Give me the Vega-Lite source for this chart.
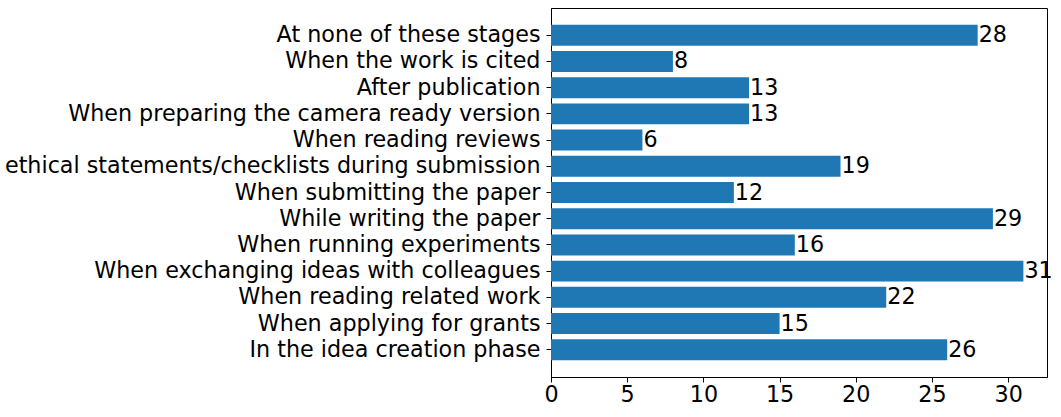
{
  "$schema": "https://vega.github.io/schema/vega-lite/v6.json",
  "autosize": "none",
  "width": 496,
  "height": 369,
  "padding": {"left": 551, "top": 8, "right": 14, "bottom": 40},
  "background": "white",
  "config": {
    "view": {"stroke": "black", "strokeWidth": 1},
    "font": "DejaVu Sans"
  },
  "data": {
    "values": [
      {"stage": "At none of these stages", "count": 28, "order": 1},
      {"stage": "When the work is cited", "count": 8, "order": 2},
      {"stage": "After publication", "count": 13, "order": 3},
      {"stage": "When preparing the camera ready version", "count": 13, "order": 4},
      {"stage": "When reading reviews", "count": 6, "order": 5},
      {"stage": "ethical statements/checklists during submission", "count": 19, "order": 6},
      {"stage": "When submitting the paper", "count": 12, "order": 7},
      {"stage": "While writing the paper", "count": 29, "order": 8},
      {"stage": "When running experiments", "count": 16, "order": 9},
      {"stage": "When exchanging ideas with colleagues", "count": 31, "order": 10},
      {"stage": "When reading related work", "count": 22, "order": 11},
      {"stage": "When applying for grants", "count": 15, "order": 12},
      {"stage": "In the idea creation phase", "count": 26, "order": 13}
    ]
  },
  "encoding": {
    "y": {
      "field": "stage",
      "type": "nominal",
      "sort": {"field": "order"},
      "scale": {"paddingInner": 0.2, "paddingOuter": 0.64},
      "axis": {
        "title": null,
        "labelFontSize": 22.25,
        "labelColor": "black",
        "labelFont": "DejaVu Sans",
        "labelPadding": 6,
        "labelLimit": 0,
        "tickColor": "black",
        "tickSize": 5,
        "domainColor": "black",
        "grid": false
      }
    },
    "x": {
      "field": "count",
      "type": "quantitative",
      "scale": {"domain": [0, 32.55], "nice": false, "zero": true},
      "axis": {
        "title": null,
        "values": [0, 5, 10, 15, 20, 25, 30],
        "labelFontSize": 22.25,
        "labelColor": "black",
        "labelFont": "DejaVu Sans",
        "labelPadding": 1,
        "tickColor": "black",
        "tickSize": 5,
        "domainColor": "black",
        "grid": false,
        "labelFlush": false
      }
    }
  },
  "layer": [
    {"mark": {"type": "bar", "color": "#1f77b4"}},
    {
      "mark": {"type": "text", "align": "left", "baseline": "middle", "dx": 1, "dy": 0, "fontSize": 22.25, "color": "black", "font": "DejaVu Sans"},
      "encoding": {"text": {"field": "count", "type": "quantitative"}}
    }
  ]
}
